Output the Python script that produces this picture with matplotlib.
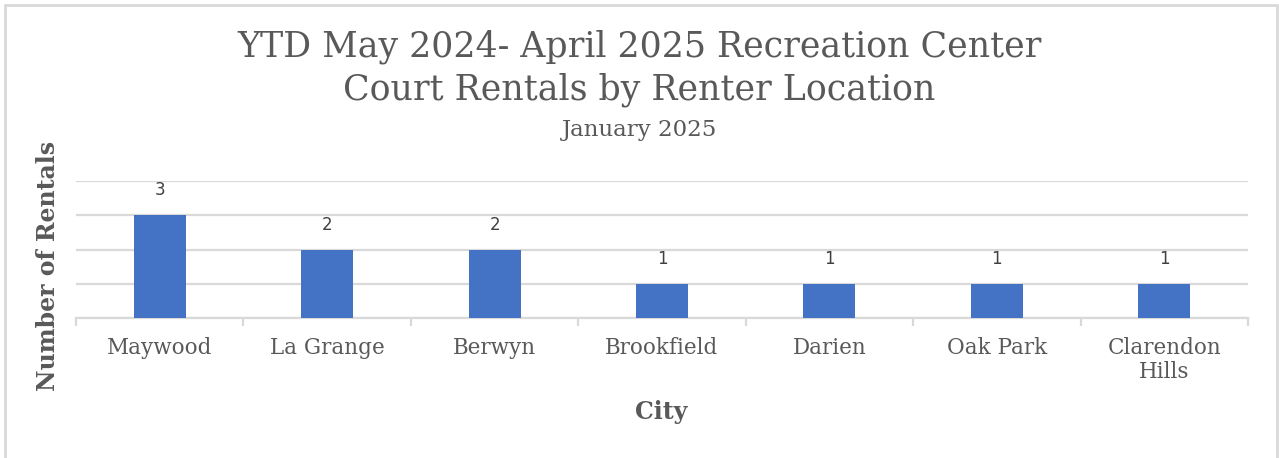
import matplotlib.pyplot as plt
from matplotlib.patches import Rectangle

# Data
cities = ['Maywood', 'La Grange', 'Berwyn', 'Brookfield', 'Darien', 'Oak Park', 'Clarendon\nHills']
rentals = [3, 2, 2, 1, 1, 1, 1]

title_lines = ['YTD May 2024- April 2025 Recreation Center', 'Court Rentals by Renter Location']
subtitle = 'January 2025'

bar_color = '#4472C4'
text_gray = '#595959'
grid_gray = '#D9D9D9'

W, H = 1279, 458
fig = plt.figure(figsize=(W / 100, H / 100), dpi=100)
fig.patch.set_facecolor('white')

# chart frame (light gray border)
fig.patches.append(Rectangle((5 / W, -0.05), (1277 - 5) / W, (H - 5) / H + 0.05,
                             transform=fig.transFigure, fill=False,
                             edgecolor=grid_gray, linewidth=2))

ax_w = 1248 - 76
ax_h = 318 - 181
ax = fig.add_axes([76 / W, 1 - 318 / H, ax_w / W, ax_h / H])
x = range(len(cities))
ax.bar(x, rentals, width=0.31, color=bar_color, zorder=3)

ax.set_xlim(-0.5, len(cities) - 0.5)
ax.set_ylim(0, 4)
ax.set_yticks([0, 1, 2, 3, 4])
ax.set_yticklabels([])
ax.tick_params(axis='y', length=0)
ax.yaxis.grid(True, color=grid_gray, linewidth=1.6, zorder=0)

for s in ['top', 'right', 'left']:
    ax.spines[s].set_visible(False)
ax.spines['bottom'].set_color(grid_gray)
ax.spines['bottom'].set_linewidth(1.6)

ax.set_xticks(list(x))
ax.set_xticklabels(cities, fontsize=15.5, color=text_gray, family='DejaVu Serif',
                   linespacing=1.1, va='top')
ax.tick_params(axis='x', which='major', length=0, pad=14)
ax.set_xticks([i - 0.5 for i in range(len(cities) + 1)], minor=True)
ax.tick_params(axis='x', which='minor', length=6, width=1.6, color=grid_gray)

# data labels
for i, v in enumerate(rentals):
    ax.annotate(str(v), (i, v), xytext=(0, 18), textcoords='offset points',
                ha='center', va='center', fontsize=12, color='#404040')

ax.set_ylabel('Number of Rentals', fontsize=17, fontweight='bold', color=text_gray,
              family='DejaVu Serif', labelpad=0)
ax.yaxis.set_label_coords(-16 / ax_w, 0.5 - (266 - 249.5) / ax_h)
ax.set_xlabel('City', fontsize=17, fontweight='bold', color=text_gray,
              family='DejaVu Serif')
ax.xaxis.set_label_coords(661 / ax_w - 76 / ax_w, -(400 - 318) / ax_h)

# titles
fig.text(0.5, 1 - 47 / H, title_lines[0], ha='center', va='center', fontsize=25,
         color=text_gray, family='DejaVu Serif')
fig.text(0.5, 1 - 90 / H, title_lines[1], ha='center', va='center', fontsize=25,
         color=text_gray, family='DejaVu Serif')
fig.text(0.5, 1 - 130 / H, subtitle, ha='center', va='center', fontsize=16.5,
         color=text_gray, family='DejaVu Serif')

plt.savefig('out.png', dpi=100)
plt.close()
